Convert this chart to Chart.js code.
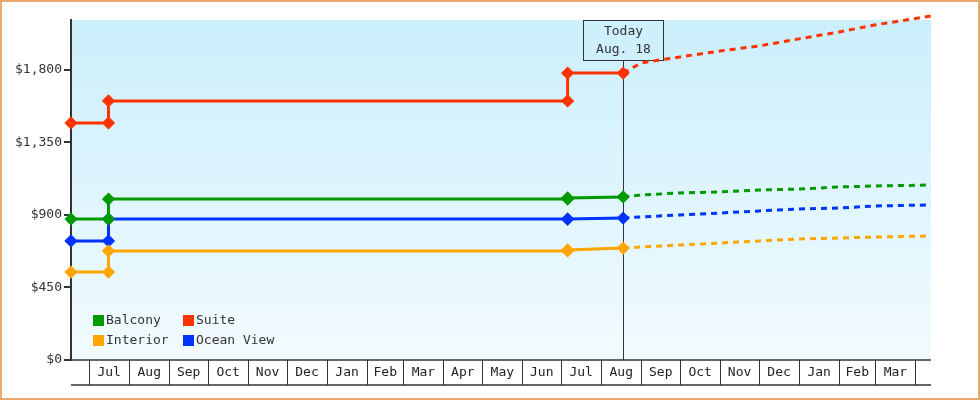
<!DOCTYPE html>
<html>
<head>
<meta charset="utf-8">
<script src="https://cdn.jsdelivr.net/npm/chart.js@4"></script>
<style>
	body{margin:0;background:#fff;}
	#wrap{width:980px;height:400px;position:relative;box-sizing:border-box;}
	#frame{position:absolute;left:0;top:0;width:976px;height:396px;border:2px solid #e8ab6c;pointer-events:none;}
</style>
</head>
<body>
<div id="wrap"><canvas id="c" width="980" height="400"></canvas><div id="frame"></div></div>
<script>
// días contados desde el 1 de julio del primer año
const actualDays = [-14, 15, 15, 370, 370, 413];
const forecastDays = [413, 427, 457, 488, 518, 549, 580, 608, 651];

const balcony = [875, 875, 999, 999, 1006, 1012];
const suite = [1471, 1471, 1608, 1608, 1781, 1781];
const oceanView = [739, 739, 875, 875, 875, 881];
const interior = [546, 546, 677, 677, 683, 695];

const balconyForecast = [1012, 1024, 1037, 1043, 1055, 1061, 1074, 1080, 1086];
const suiteForecast = [1781, 1844, 1881, 1918, 1949, 1993, 2036, 2080, 2135];
const oceanForecast = [881, 888, 900, 912, 925, 937, 943, 956, 962];
const interiorForecast = [695, 701, 714, 726, 739, 751, 757, 763, 770];

const monthLabels = ['Jul','Aug','Sep','Oct','Nov','Dec','Jan','Feb','Mar','Apr','May','Jun',
	'Jul','Aug','Sep','Oct','Nov','Dec','Jan','Feb','Mar'];
const monthLengths = [31,31,30,31,30,31,31,28,31,30,31,30,31,31,30,31,30,31,31,28,31];
const yTicks = [0, 450, 900, 1350, 1800];
const todayDay = 413;
const todayText = ['Today', 'Aug. 18'];

const FONT = '"DejaVu Sans Mono", monospace';
const colors = {Balcony:'#009900', Suite:'#ff3300', Interior:'#ffa500', 'Ocean View':'#0033ff'};

function pts(days, vals){ return days.map((d,i) => ({x:d, y:vals[i]})); }

function solid(label, vals){
	return {label, data: pts(actualDays, vals), borderColor: colors[label], backgroundColor: colors[label],
		borderWidth: 3, pointStyle: 'rectRot', pointRadius: 4.5, pointHoverRadius: 4.5, tension: 0, clip: false};
}
function dashed(label, vals){
	return {label: label + ' forecast', data: pts(forecastDays, vals), borderColor: colors[label],
		borderWidth: 3, borderDash: [6, 5], pointRadius: 0, tension: 0, clip: false, forecast: true};
}

// fondo degradado del área del gráfico
const bgPlugin = {
	id: 'bg',
	beforeDraw(chart){
		const {ctx, chartArea: a} = chart;
		const g = ctx.createLinearGradient(0, a.top, 0, a.bottom);
		g.addColorStop(0, '#cbeffc');
		g.addColorStop(1, '#f2fbff');
		ctx.save();
		ctx.fillStyle = g;
		ctx.fillRect(a.left, a.top, a.right - a.left, a.bottom - a.top);
		ctx.restore();
	}
};

// cajas de meses bajo el eje, línea "Today" y leyenda
const decoPlugin = {
	id: 'deco',
	beforeDatasetsDraw(chart){
		const {ctx, chartArea: a, scales: {x}} = chart;
		const tx = Math.round(x.getPixelForValue(todayDay)) + 0.5;
		ctx.save();
		ctx.strokeStyle = '#333'; ctx.lineWidth = 1;
		ctx.beginPath(); ctx.moveTo(tx, 60); ctx.lineTo(tx, a.bottom); ctx.stroke();
		ctx.fillStyle = 'rgba(205,240,252,0.9)';
		ctx.fillRect(tx - 40, 20.5, 80, 40);
		ctx.strokeRect(tx - 40, 20.5, 80, 40);
		ctx.fillStyle = '#333'; ctx.font = '13px ' + FONT; ctx.textAlign = 'center'; ctx.textBaseline = 'middle';
		ctx.fillText(todayText[0], tx, 32);
		ctx.fillText(todayText[1], tx, 50);
		ctx.restore();
	},
	afterDraw(chart){
		const {ctx, chartArea: a, scales: {x}} = chart;
		ctx.save();
		ctx.strokeStyle = '#333'; ctx.lineWidth = 1.5;
		const top = a.bottom, bot = a.bottom + 25;
		ctx.beginPath(); ctx.moveTo(a.left, bot); ctx.lineTo(a.right, bot);
		ctx.moveTo(a.left, top); ctx.lineTo(a.right, top); ctx.stroke();
		ctx.font = '13px ' + FONT; ctx.fillStyle = '#222'; ctx.textAlign = 'center'; ctx.textBaseline = 'middle';
		let d = 0;
		const edges = [0];
		monthLengths.forEach(m => { d += m; edges.push(d); });
		ctx.lineWidth = 1;
		edges.forEach(e => {
			const px = Math.round(x.getPixelForValue(e)) + 0.5;
			ctx.beginPath(); ctx.moveTo(px, top); ctx.lineTo(px, bot); ctx.stroke();
		});
		monthLabels.forEach((lab, i) => {
			const cx = (x.getPixelForValue(edges[i]) + x.getPixelForValue(edges[i+1])) / 2;
			ctx.fillText(lab, cx, top + 13);
		});
		// leyenda
		const items = chart.data.datasets.filter(ds => !ds.forecast);
		const order = ['Balcony', 'Suite', 'Interior', 'Ocean View'];
		ctx.textAlign = 'left';
		order.forEach((lab, i) => {
			const ds = items.find(s => s.label === lab);
			const lx = 93 + (i % 2) * 90, ly = 320 + Math.floor(i / 2) * 20;
			ctx.fillStyle = ds.borderColor;
			ctx.fillRect(lx, ly - 5, 11, 11);
			ctx.fillStyle = '#333';
			ctx.fillText(lab, lx + 13, ly + 1);
		});
		ctx.restore();
	}
};

new Chart(document.getElementById('c'), {
	type: 'line',
	data: {
		datasets: [
			solid('Balcony', balcony), solid('Suite', suite), solid('Interior', interior), solid('Ocean View', oceanView),
			dashed('Balcony', balconyForecast), dashed('Suite', suiteForecast),
			dashed('Interior', interiorForecast), dashed('Ocean View', oceanForecast)
		]
	},
	options: {
		responsive: false,
		animation: false,
		layout: {padding: {left: 0, top: 20, right: 49, bottom: 40}},
		plugins: {legend: {display: false}, tooltip: {enabled: false}},
		scales: {
			x: {type: 'linear', min: -14, max: 651, display: false},
			y: {
				min: 0, max: 2110,
				afterBuildTicks(s){ s.ticks = yTicks.map(v => ({value: v})); },
				afterFit(s){ s.width = 71; },
				grid: {drawOnChartArea: false, tickLength: 7, color: '#333', lineWidth: 2},
				border: {color: '#333', width: 2},
				ticks: {color: '#333', font: {family: FONT, size: 13}, padding: 2,
					callback: v => '$' + v.toLocaleString('en-US')}
			}
		}
	},
	plugins: [bgPlugin, decoPlugin]
});
</script>
</body>
</html>
